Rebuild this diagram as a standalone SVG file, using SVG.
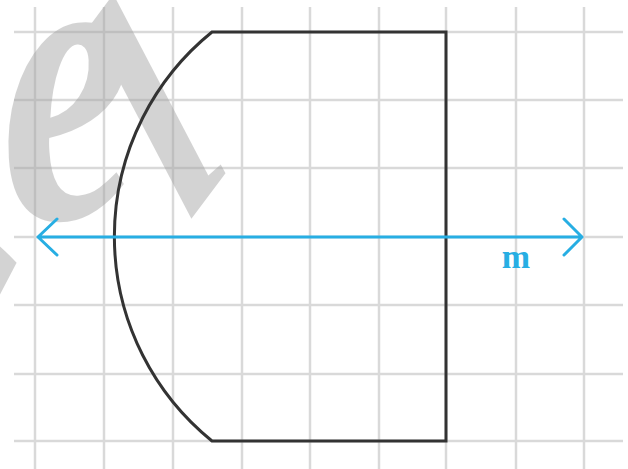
<svg xmlns="http://www.w3.org/2000/svg" width="628" height="469" viewBox="0 0 628 469">
<style>
.grid{stroke:#d9d9d9;stroke-width:2.5;fill:none}
.shape{stroke:#333333;stroke-width:3;fill:none;stroke-linejoin:miter}
.axis{stroke:#27aee3;stroke-width:3;fill:none;stroke-linecap:round;stroke-linejoin:round}
.wm{font-family:"Liberation Serif",serif;font-style:italic;font-weight:bold;fill:#a0a0a0;opacity:0.45}
.lbl{font-family:"Liberation Serif",serif;font-weight:bold;fill:#27aee3}
</style>
<rect width="628" height="469" fill="#ffffff"/>
<g id="grid" class="grid">
<path d="M35 7V469M104 7V469M173 7V469M242 7V469M310 7V469M379 7V469M446 7V469M516 7V469M584 7V469"/>
<path d="M14 32H623M14 100H623M14 168H623M14 237H623M14 305H623M14 374H623M14 441H623"/>
</g>
<g id="watermark" transform="scale(0.75,1)">
<text class="wm" font-size="410" x="-280 8" y="412 225" rotate="25 -5">Se<tspan x="250" y="224" rotate="-45" font-size="335">l</tspan></text>
</g>
<g id="figure">
<path class="shape" d="M212 32H446V441H212A263 263 0 0 1 212 32Z"/>
</g>
<g id="connectors">
<path class="axis" d="M38 237H582M57 219L38 237L57 255M564 219L582 237L564 255"/>
</g>
<g id="label-m">
<text class="lbl" x="516" y="268" font-size="34" text-anchor="middle">m</text>
</g>
</svg>
